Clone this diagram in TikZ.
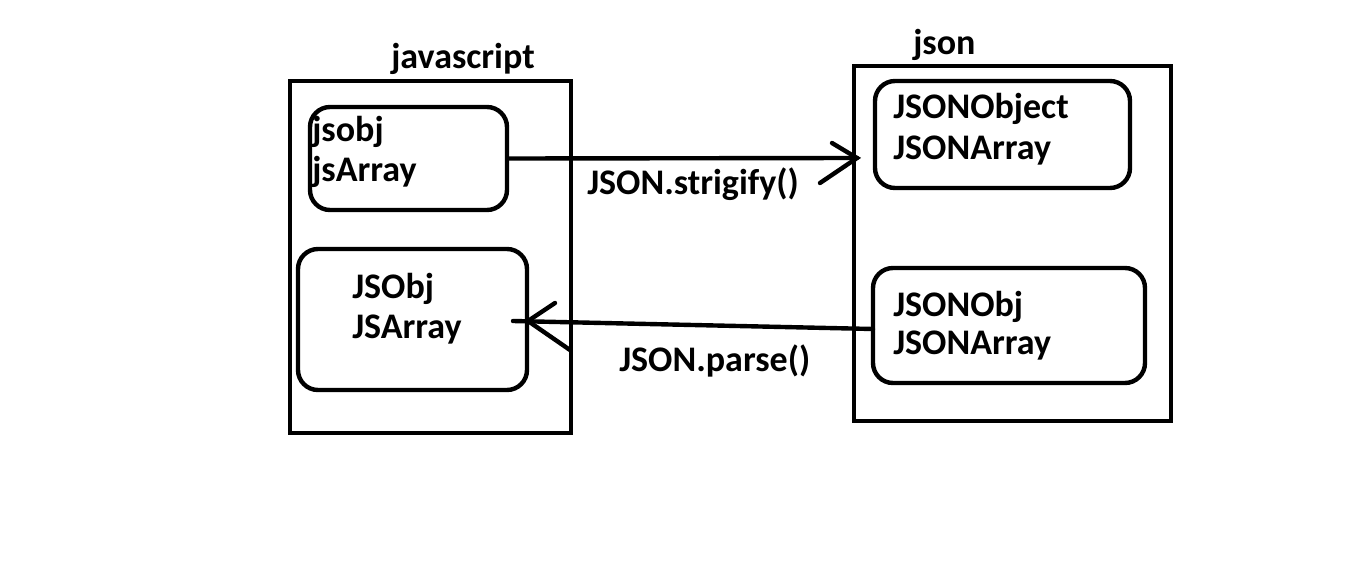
\documentclass[tikz,border=0pt]{standalone}
\usepackage{fontspec}
\setmainfont{Carlito}
\begin{document}
\begin{tikzpicture}[x=0.75pt,y=-0.75pt,
  outerbox/.style={draw,line width=3.3pt,inner sep=0pt},
  innerbox/.style={draw,line width=3.3pt,rounded corners=15pt,inner sep=0pt},
  lbl/.style={font=\fontsize{27}{31}\selectfont\bfseries,anchor=base west,inner sep=0pt},
  conn/.style={line width=3.3pt,line cap=round}]
\useasboundingbox (0,0) rectangle (1360,571);
% boxes
\node[outerbox,minimum width=281*0.75pt,minimum height=352*0.75pt] (js) at (430.5,257) {};
\node[outerbox,minimum width=317*0.75pt,minimum height=355*0.75pt] (json) at (1012.5,243.5) {};
\node[innerbox,minimum width=197*0.75pt,minimum height=103*0.75pt] (b1) at (408.5,158.5) {};
\node[innerbox,minimum width=229*0.75pt,minimum height=141*0.75pt] (b2) at (412.5,319.5) {};
\node[innerbox,minimum width=255*0.75pt,minimum height=107*0.75pt] (b3) at (1002.5,134.5) {};
\node[innerbox,minimum width=272*0.75pt,minimum height=115*0.75pt] (b4) at (1009,325.5) {};
% titles
\node[lbl] (tjs) at (391,68) {javascript};
\node[lbl] (tjson) at (913,54) {json};
% contents
\node[lbl] (t1a) at (312,141) {jsobj};
\node[lbl] (t1b) at (312,181) {jsArray};
\node[lbl] (t2a) at (352,298) {JSObj};
\node[lbl] (t2b) at (352,338) {JSArray};
\node[lbl] (t3a) at (893,118) {JSONObject};
\node[lbl] (t3b) at (893,159) {JSONArray};
\node[lbl] (t4a) at (893,316) {JSONObj};
\node[lbl] (t4b) at (893,354) {JSONArray};
% connector labels
\node[lbl] (s1) at (587,194) {JSON.strigify()};
\node[lbl] (s2) at (619,371) {JSON.parse()};
% connectors
\coordinate (tip1) at (857,158);
\coordinate (c1u) at (832,143);
\coordinate (c1d) at (820,183);
\draw[conn] (b1.east) -- (tip1);
\draw[conn] (c1u) -- (tip1) -- (c1d);
\coordinate (st2) at (873,329);
\coordinate (end2) at (513,321);
\coordinate (tip2) at (528,321);
\coordinate (c2u) at (555,303);
\coordinate (c2d) at (570,350);
\draw[conn] (st2) -- (end2);
\draw[conn] (c2u) -- (tip2) -- (c2d);
\end{tikzpicture}
\end{document}
